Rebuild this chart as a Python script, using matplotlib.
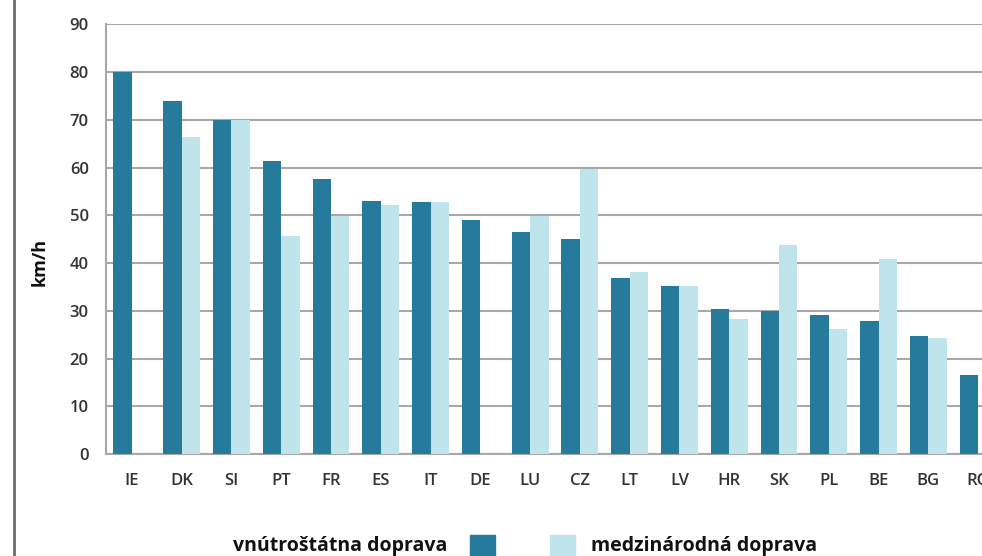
import matplotlib
matplotlib.use("Agg")
import matplotlib.pyplot as plt
import numpy as np
from matplotlib.patches import Rectangle
from matplotlib.lines import Line2D

plt.rcParams['font.family'] = ['Open Sans', 'DejaVu Sans']

countries = ["IE", "DK", "SI", "PT", "FR", "ES", "IT", "DE", "LU", "CZ",
             "LT", "LV", "HR", "SK", "PL", "BE", "BG", "RO"]
domestic = [80.0, 73.9, 70.0, 61.4, 57.7, 53.0, 52.8, 49.1, 46.4, 45.0,
            36.8, 35.2, 30.3, 30.0, 29.1, 27.9, 24.7, 16.6]
international = [np.nan, 66.4, 70.0, 45.6, 49.9, 52.1, 52.8, np.nan, 49.9, 59.7,
                 38.2, 35.1, 28.3, 43.8, 26.1, 40.8, 24.4, np.nan]
yticks = [0, 10, 20, 30, 40, 50, 60, 70, 80, 90]
label_dom = "vnútroštátna doprava"
label_int = "medzinárodná doprava"
ylabel = "km/h"

dark = "#267b9c"
light = "#c0e4ec"
grid_c = "#a8a8a8"

W, H = 982, 556
fig = plt.figure(figsize=(W / 100, H / 100), dpi=100)
fig.patch.set_facecolor("white")

# axes in pixel coordinates (extends past right edge, as in the cropped reference)
left_px, right_px, top_px, bottom_px = 106, 1003, 24.3, 454
aw = right_px - left_px
ax = fig.add_axes([left_px / W, (H - bottom_px) / H,
                   aw / W, (bottom_px - top_px) / H])

x = np.arange(len(countries))
bw = 0.37
ax.bar(x - bw / 2, domestic, width=bw, color=dark, zorder=3, linewidth=0)
ax.bar(x + bw / 2, np.nan_to_num(international), width=bw, color=light, zorder=3, linewidth=0)

ax.set_xlim(-0.52, 17.5)
ax.set_ylim(0, 90)
ax.set_yticks(yticks)
ax.set_xticks(x)
ax.set_xticklabels(countries)
ax.yaxis.grid(True, color=grid_c, linewidth=1.5, zorder=0)
ax.set_axisbelow(True)
for s in ["top", "right"]:
    ax.spines[s].set_visible(False)
for s in ["left", "bottom"]:
    ax.spines[s].set_color(grid_c)
    ax.spines[s].set_linewidth(1.5)
ax.tick_params(axis="both", length=0, labelsize=12, labelcolor="#333333")
for lab in ax.get_xticklabels() + ax.get_yticklabels():
    lab.set_fontweight(600)
ax.tick_params(axis="x", pad=14)
ax.tick_params(axis="y", pad=12.5)
ax.set_ylabel(ylabel, fontsize=13, fontweight="bold", color="#111111")
ax.yaxis.set_label_coords(-(106 - 49) / aw, 0.447)

# outer frame line on the left
fig.add_artist(Line2D([14 / W, 14 / W], [0, 1], color="#6a6a6a", linewidth=2))

# legend
ty = (H - 546) / H
fig.text(447 / W, ty, label_dom, ha="right", va="center", fontsize=14,
         fontweight="bold", color="#111111")
fig.add_artist(Rectangle((470 / W, 0), 25 / W, 21 / H, color=dark, transform=fig.transFigure))
fig.add_artist(Rectangle((550 / W, 0), 25 / W, 21 / H, color=light, transform=fig.transFigure))
fig.text(591 / W, ty, label_int, ha="left", va="center", fontsize=14,
         fontweight="bold", color="#111111")

fig.savefig("out.png", dpi=100, facecolor="white")
